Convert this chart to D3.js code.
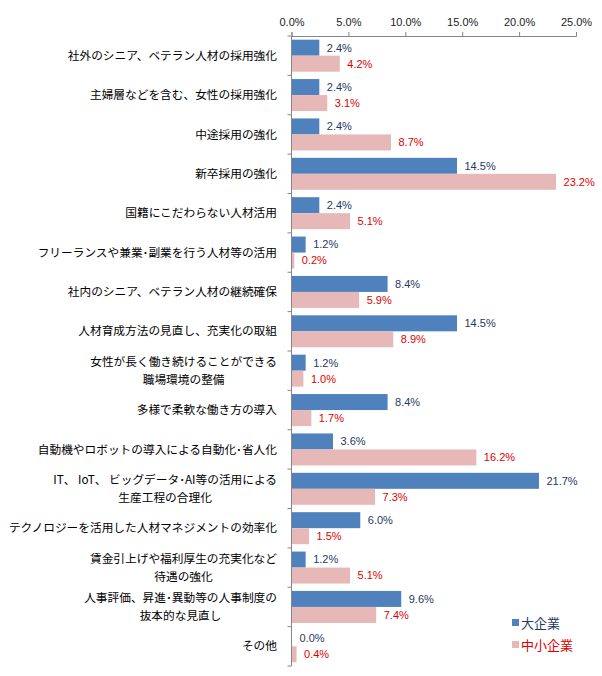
<!DOCTYPE html>
<html><head><meta charset="utf-8">
<script src="https://cdn.jsdelivr.net/npm/d3@7"></script>
<style>body{margin:0;background:#fff;} svg{display:block;}</style>
</head><body>
<svg id="chart" width="602" height="676"></svg>
<script>
const categories = [
  ["社外のシニア、ベテラン人材の採用強化"],
  ["主婦層などを含む、女性の採用強化"],
  ["中途採用の強化"],
  ["新卒採用の強化"],
  ["国籍にこだわらない人材活用"],
  ["フリーランスや兼業･副業を行う人材等の活用"],
  ["社内のシニア、ベテラン人材の継続確保"],
  ["人材育成方法の見直し、充実化の取組"],
  ["女性が長く働き続けることができる","職場環境の整備"],
  ["多様で柔軟な働き方の導入"],
  ["自動機やロボットの導入による自動化･省人化"],
  ["IT、 IoT、 ビッグデータ･AI等の活用による","生産工程の合理化"],
  ["テクノロジーを活用した人材マネジメントの効率化"],
  ["賃金引上げや福利厚生の充実化など","待遇の強化"],
  ["人事評価、昇進･異動等の人事制度の","抜本的な見直し"],
  ["その他"]
];
const seriesNames = ["大企業", "中小企業"];
const largeValues = [2.4, 2.4, 2.4, 14.5, 2.4, 1.2, 8.4, 14.5, 1.2, 8.4, 3.6, 21.7, 6.0, 1.2, 9.6, 0.0];
const smeValues   = [4.2, 3.1, 8.7, 23.2, 5.1, 0.2, 5.9, 8.9, 1.0, 1.7, 16.2, 7.3, 1.5, 5.1, 7.4, 0.4];
const tickValues = [0, 5, 10, 15, 20, 25];

const colors = ["#4F81BD", "#E6B9B8"];
const labelColors = ["#1F3864", "#E00000"];

const svg = d3.select("#chart");
const x = d3.scaleLinear().domain([0, 25]).range([291.5, 576]);
const y = d3.scaleBand().domain(d3.range(categories.length)).range([36, 666]);
const barH = 16;

// top axis
const xAxis = d3.axisTop(x).tickValues(tickValues).tickSize(4).tickSizeOuter(4)
  .tickFormat(d => d.toFixed(1) + "%");
const gx = svg.append("g").attr("transform", "translate(0,36)").call(xAxis);
gx.select(".domain").attr("stroke", "#868686");
gx.selectAll(".tick line").attr("stroke", "#868686");
gx.selectAll(".tick text").attr("font-family", "'Liberation Sans', Arial, sans-serif")
  .attr("font-size", "11px").attr("fill", "#222").attr("dy", "-3");

// left axis (category separators)
const yEdges = d3.range(categories.length + 1).map(i => 36 + i * y.step());
svg.append("line").attr("x1", x(0)).attr("x2", x(0)).attr("y1", 36).attr("y2", 666)
  .attr("stroke", "#868686");
svg.selectAll(".sep").data(yEdges).join("line").attr("class", "sep")
  .attr("x1", x(0) - 4).attr("x2", x(0)).attr("y1", d => d).attr("y2", d => d)
  .attr("stroke", "#868686");

const series = [largeValues, smeValues];
series.forEach((vals, s) => {
  const g = svg.append("g");
  g.selectAll("rect").data(vals).join("rect")
    .attr("x", x(0) + 0.5)
    .attr("y", (d, i) => y(i) + y.bandwidth() / 2 - barH + s * barH)
    .attr("width", d => Math.max(0, x(d) - x(0)))
    .attr("height", barH)
    .attr("fill", colors[s]);
  g.selectAll("text").data(vals).join("text")
    .attr("x", d => x(d) + 8)
    .attr("y", (d, i) => y(i) + y.bandwidth() / 2 - barH / 2 + s * barH)
    .attr("dy", "0.35em")
    .attr("font-family", "'Liberation Sans', Arial, sans-serif")
    .attr("font-size", "11px")
    .attr("fill", labelColors[s])
    .text(d => d.toFixed(1) + "%");
});

// category labels
const labelRight = 277;
categories.forEach((lines, i) => {
  const cy = y(i) + y.bandwidth() / 2;
  const g = svg.append("g");
  const lh = 18;
  const texts = lines.map((ln, k) => g.append("text")
    .attr("y", cy + (k - (lines.length - 1) / 2) * lh)
    .attr("dy", "0.35em")
    .attr("font-family", "'Noto Sans CJK JP', sans-serif")
    .attr("font-size", "11.7px")
    .attr("fill", "#000")
    .text(ln));
  const widths = texts.map(t => t.node().getComputedTextLength());
  const maxW = d3.max(widths);
  const center = labelRight - maxW / 2;
  texts.forEach(t => t.attr("x", center).attr("text-anchor", "middle"));
});

// legend
seriesNames.forEach((name, s) => {
  const ly = 623 + s * 22;
  svg.append("rect").attr("x", 512).attr("y", ly - 4).attr("width", 7).attr("height", 7)
    .attr("fill", colors[s]);
  svg.append("text").attr("x", 521).attr("y", ly).attr("dy", "0.35em")
    .attr("font-family", "'Noto Sans CJK JP', sans-serif").attr("font-size", "13px")
    .attr("fill", labelColors[s]).text(name);
});
</script>
</body></html>
